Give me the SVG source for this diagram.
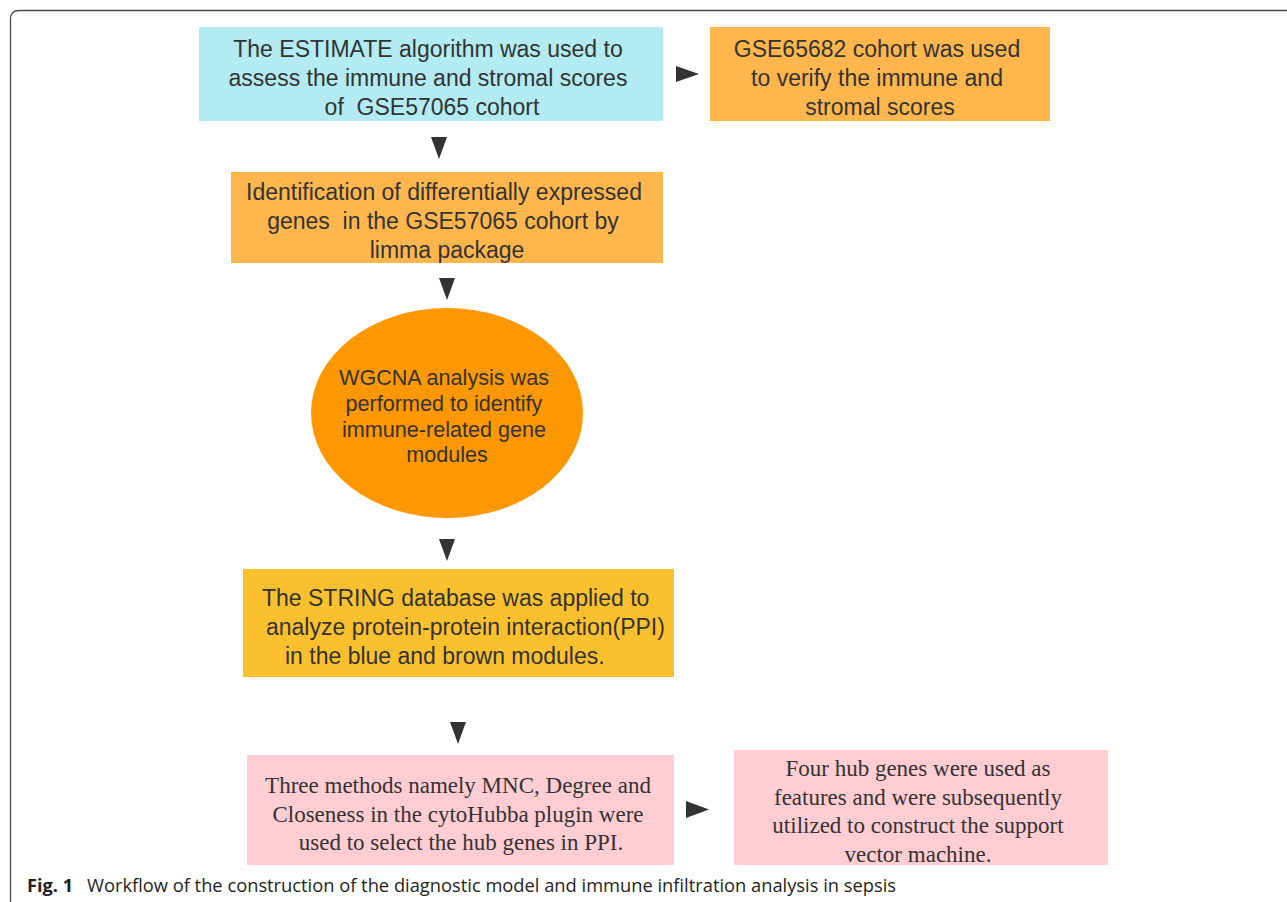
<svg xmlns="http://www.w3.org/2000/svg" width="1287" height="902" viewBox="0 0 1287 902">
  <style>
    .sans { font-family: "Liberation Sans", Arial, sans-serif; font-size: 23px; fill: #333333; }
    .ell { font-family: "Liberation Sans", Arial, sans-serif; font-size: 21.6px; fill: #333333; }
    .serif { font-family: "Liberation Serif", "Times New Roman", serif; font-size: 23px; fill: #333333; }
    .cap { font-family: "Open Sans", "Noto Sans", sans-serif; font-size: 17.5px; fill: #231f20; }
    .arrow { fill: #333333; }
    .mid { text-anchor: middle; }
  </style>
  <rect x="0" y="0" width="1287" height="902" fill="#ffffff"/>
  <path d="M10.5,902 V19 Q10.5,10.5 19,10.5 H1287" fill="none" stroke="#4a4a4a" stroke-width="1.3"/>

  <g id="node-estimate">
    <rect x="199" y="27" width="464" height="94" fill="#b2ebf2"/>
    <text class="sans mid" x="428" y="57">The ESTIMATE algorithm was used to</text>
    <text class="sans mid" x="428" y="86">assess the immune and stromal scores</text>
    <text class="sans mid" x="432" y="114.5" xml:space="preserve">of  GSE57065 cohort</text>
  </g>

  <g id="node-gse65682">
    <rect x="710" y="27" width="340" height="94" fill="#ffb74d"/>
    <text class="sans mid" x="877" y="57">GSE65682 cohort was used</text>
    <text class="sans mid" x="877" y="86">to verify the immune and</text>
    <text class="sans mid" x="880" y="114.5">stromal scores</text>
  </g>

  <g id="node-deg">
    <rect x="231" y="172" width="432" height="91" fill="#ffb74d"/>
    <text class="sans mid" x="444" y="200">Identification of differentially expressed</text>
    <text class="sans mid" x="443" y="229" xml:space="preserve">genes  in the GSE57065 cohort by</text>
    <text class="sans mid" x="447" y="257.5">limma package</text>
  </g>

  <g id="node-wgcna">
    <ellipse cx="447" cy="413" rx="136" ry="105" fill="#ff9800"/>
    <text class="ell mid" x="444" y="384.5">WGCNA analysis was</text>
    <text class="ell mid" x="444" y="410.5">performed to identify</text>
    <text class="ell mid" x="444" y="436.5">immune-related gene</text>
    <text class="ell mid" x="447" y="462">modules</text>
  </g>

  <g id="node-string">
    <rect x="243" y="569" width="431" height="108" fill="#fbc02d"/>
    <text class="sans" x="262" y="606">The STRING database was applied to</text>
    <text class="sans" x="266" y="635">analyze protein-protein interaction(PPI)</text>
    <text class="sans" x="285" y="663.5">in the blue and brown modules.</text>
  </g>

  <g id="node-cytohubba">
    <rect x="247" y="755" width="427" height="110" fill="#ffcdd2"/>
    <text class="serif mid" x="458" y="793">Three methods namely MNC, Degree and</text>
    <text class="serif mid" x="458" y="821.5">Closeness in the cytoHubba plugin were</text>
    <text class="serif mid" x="461" y="850">used to select the hub genes in PPI.</text>
  </g>

  <g id="node-svm">
    <rect x="734" y="750" width="374" height="115" fill="#ffcdd2"/>
    <text class="serif mid" x="918" y="776">Four hub genes were used as</text>
    <text class="serif mid" x="918" y="804.5">features and were subsequently</text>
    <text class="serif mid" x="918" y="833">utilized to construct the support</text>
    <text class="serif mid" x="918" y="861.5">vector machine.</text>
  </g>

  <g id="connectors">
    <polygon class="arrow" points="676,66 676,82 699,74"/>
    <polygon class="arrow" points="431,137 447,137 439,159"/>
    <polygon class="arrow" points="439,278 455,278 447,300"/>
    <polygon class="arrow" points="439,539 455,539 447,561"/>
    <polygon class="arrow" points="450,722 466,722 458,744"/>
    <polygon class="arrow" points="686,801 686,818 709,809.5"/>
  </g>

  <g id="caption">
    <text class="cap" x="27" y="892" font-weight="bold" textLength="46" lengthAdjust="spacingAndGlyphs">Fig. 1</text>
    <text class="cap" x="87" y="892" textLength="809" lengthAdjust="spacingAndGlyphs">Workflow of the construction of the diagnostic model and immune infiltration analysis in sepsis</text>
  </g>
</svg>
